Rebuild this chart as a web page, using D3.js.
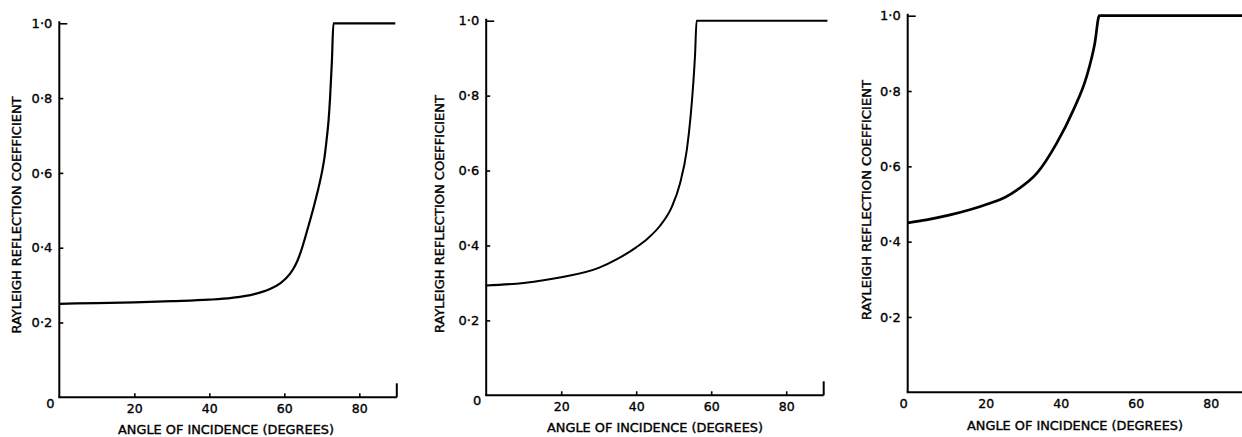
<!DOCTYPE html>
<html>
<head>
<meta charset="utf-8">
<script src="https://cdn.jsdelivr.net/npm/d3@7"></script>
<style>
  html, body { margin: 0; padding: 0; background: #fff; }
  svg { display: block; }
  text { font-family: "DejaVu Sans", "Liberation Sans", sans-serif; fill: #000; stroke: #000; stroke-width: 0.35px; }
</style>
</head>
<body>
<svg id="chart" width="1242" height="437"></svg>
<script>
// Rayleigh reflection coefficient against angle of incidence, three cases.
const xTicks = [20, 40, 60, 80];
const yTicks = [0.2, 0.4, 0.6, 0.8, 1.0];
const yTickLabels = ["0·2", "0·4", "0·6", "0·8", "1·0"];
const xTitle = "ANGLE OF INCIDENCE (DEGREES)";
const yTitle = "RAYLEIGH REFLECTION COEFFICIENT";

// Case (a)
const angleA = [0, 10, 20, 30, 40, 46, 52, 56, 59, 61.5, 62.5, 63.5, 64.5, 65.5, 66.5, 68, 69, 70, 70.7, 71.3, 71.8, 72.2, 72.7, 73.1, 89.6];
const coefA  = [0.250, 0.252, 0.254, 0.257, 0.261, 0.266, 0.276, 0.289, 0.305, 0.330, 0.345, 0.365, 0.392, 0.425, 0.460, 0.515, 0.555, 0.600, 0.640, 0.690, 0.740, 0.800, 0.900, 1.0, 1.0];

// Case (b)
const angleB = [0, 10, 20, 30, 35, 40, 43, 46.3, 49.5, 51.7, 53.5, 54.5, 55.2, 55.7, 56.1, 91];
const coefB  = [0.293, 0.300, 0.315, 0.340, 0.364, 0.395, 0.418, 0.452, 0.503, 0.566, 0.655, 0.744, 0.830, 0.910, 1.0, 1.0];

// Case (c)
const angleC = [0, 5, 11.3, 17, 21.9, 26, 29.1, 34.4, 39.7, 44.2, 47.7, 49.9, 51.1, 92];
const coefC  = [0.450, 0.458, 0.471, 0.486, 0.502, 0.518, 0.537, 0.581, 0.661, 0.750, 0.838, 0.927, 1.0, 1.0];

const svg = d3.select("#chart");

function drawPanel(cfg) {
  const x = d3.scaleLinear().domain([0, 90]).range([cfg.left, cfg.left + cfg.unit * 90]);
  const y = d3.scaleLinear().domain([0, 1]).range([cfg.bottom, cfg.top]);
  const g = svg.append("g");

  // y axis, ticks pointing inward
  const yAxis = d3.axisLeft(y)
    .tickValues(yTicks)
    .tickFormat((d, i) => yTickLabels[i])
    .tickSizeInner(-4)
    .tickSizeOuter(0)
    .tickPadding(7);
  const ya = g.append("g").attr("transform", `translate(${cfg.left},0)`).call(yAxis);
  ya.select(".domain").attr("stroke", "#000").attr("stroke-width", 2)
    .attr("d", `M0,${y(0)}V${y(1) - 2}`);
  ya.selectAll(".tick line").attr("stroke", "#000").attr("stroke-width", 1.6)
    .attr("x2", d => d === 1 ? 8 : 4);
  ya.selectAll(".tick text")
    .attr("font-size", 13)
    .style("font-family", "'DejaVu Sans', sans-serif")
    .attr("fill", "#000");

  // x axis
  const xAxis = d3.axisBottom(x)
    .tickValues(xTicks)
    .tickFormat(d => d)
    .tickSizeInner(cfg.xTickMarks ? -4 : 0)
    .tickSizeOuter(0)
    .tickPadding(7);
  const xa = g.append("g").attr("transform", `translate(0,${cfg.bottom})`).call(xAxis);
  xa.select(".domain").attr("stroke", "#000").attr("stroke-width", 2)
    .attr("d", `M${x(0) - 1},0H${Math.min(x(cfg.xEnd), 1242)}`);
  xa.selectAll(".tick line").attr("stroke", "#000").attr("stroke-width", 1.6);
  xa.selectAll(".tick text")
    .attr("font-size", 12.5)
    .style("font-family", "'DejaVu Sans', sans-serif")
    .attr("fill", "#000")
    .attr("dx", cfg.xLabelShift || 0);

  // end mark at 90 degrees
  if (cfg.endMark) {
    g.append("path")
      .attr("d", `M${x(90)},${y(0)}V${y(0) - 14}`)
      .attr("stroke", "#000").attr("stroke-width", 2).attr("fill", "none");
  }

  // origin label
  g.append("text")
    .attr("x", x(0) + cfg.originDx)
    .attr("y", y(0) + cfg.originDy)
    .attr("text-anchor", "middle")
    .attr("dominant-baseline", "central")
    .attr("font-size", 13)
    .text("0");

  // axis titles
  g.append("text")
    .attr("x", cfg.xTitleX).attr("y", cfg.xTitleY)
    .attr("text-anchor", "middle").attr("dominant-baseline", "central")
    .attr("font-size", 11.5)
    .attr("textLength", 216).attr("lengthAdjust", "spacingAndGlyphs")
    .text(xTitle);
  g.append("text")
    .attr("transform", `translate(${cfg.yTitleX},${cfg.yTitleY}) rotate(-90)`)
    .attr("text-anchor", "middle").attr("dominant-baseline", "central")
    .attr("font-size", 11.5)
    .attr("textLength", cfg.yTitleLen).attr("lengthAdjust", "spacingAndGlyphs")
    .text(yTitle);

  // reflection coefficient curve
  const line = d3.line()
    .x(d => x(d[0]))
    .y(d => y(d[1]))
    .curve(d3.curveMonotoneX);
  g.append("path")
    .datum(cfg.angles.map((a, i) => [a, cfg.coefs[i]]))
    .attr("d", line)
    .attr("fill", "none")
    .attr("stroke", "#000")
    .attr("stroke-width", cfg.lineWidth)
    .attr("stroke-linejoin", "round");
}

drawPanel({
  left: 59.3, unit: 3.75, bottom: 397.3, top: 23.3,
  angles: angleA, coefs: coefA, lineWidth: 2.2,
  xTickMarks: true, xEnd: 90, endMark: true,
  originDx: -9, originDy: 6,
  xTitleX: 226, xTitleY: 430, yTitleX: 17, yTitleY: 215, yTitleLen: 237
});

drawPanel({
  left: 486.2, unit: 3.75, bottom: 395.3, top: 20.7,
  angles: angleB, coefs: coefB, lineWidth: 2.0,
  xTickMarks: true, xEnd: 90, endMark: true,
  originDx: -9, originDy: 5,
  xTitleX: 655, xTitleY: 427.5, yTitleX: 440, yTitleY: 214, yTitleLen: 238
});

drawPanel({
  left: 907.7, unit: 3.75, bottom: 392.3, top: 15.7,
  angles: angleC, coefs: coefC, lineWidth: 2.7,
  xTickMarks: false, xEnd: 92, endMark: false,
  originDx: -4, originDy: 11,
  xLabelShift: 3,
  xTitleX: 1075, xTitleY: 426, yTitleX: 867, yTitleY: 200, yTitleLen: 240
});
</script>
</body>
</html>
